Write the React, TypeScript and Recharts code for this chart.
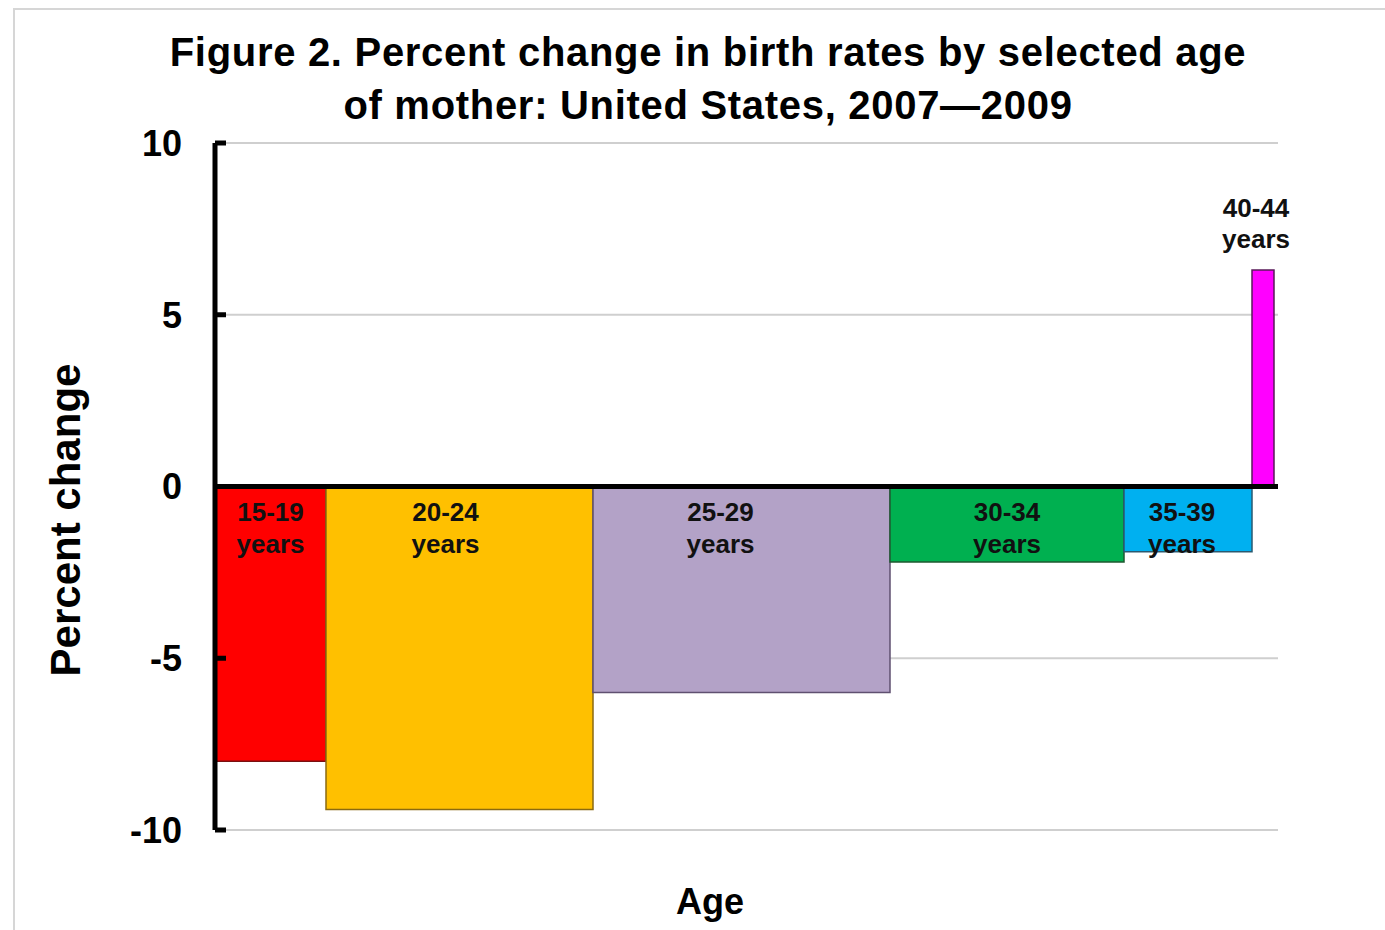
import {
  CartesianGrid,
  ComposedChart,
  Line,
  ReferenceArea,
  ReferenceLine,
  XAxis,
  YAxis,
} from 'recharts';

const ageGroups = ['15-19', '20-24', '25-29', '30-34', '35-39', '40-44'];
const percentChange = [-8.0, -9.4, -6.0, -2.2, -1.9, 6.3];
// bar widths (relative share of births)
const barWidths = [111, 267, 297, 234, 128, 22];
const barColors = ['#ff0000', '#ffc000', '#b3a2c7', '#00b050', '#00b0f0', '#ff00ff'];
const barEdges = ['#7a1010', '#8a6a10', '#5f5070', '#1f5a30', '#2a5a70', '#5a1a5a'];
const yTicks = [-10, -5, 0, 5, 10];
// label nudges (px) so the labels sit where the original put them
const labelDx = [0, -14, -21, 0, -6, -7];

const FONT = '"Liberation Sans", Arial, sans-serif';

const bars = ageGroups.map((age, i) => {
  const start = barWidths.slice(0, i).reduce((a, b) => a + b, 0);
  return { age, value: percentChange[i], start, end: start + barWidths[i] };
});
const totalWidth = bars[bars.length - 1].end;

function BarLabel(props: any) {
  const { viewBox, age, positive, dx } = props;
  if (!viewBox) return null;
  const cx = viewBox.x + viewBox.width / 2 + dx;
  const y1 = positive ? viewBox.y - 53 : viewBox.y + 34;
  const y2 = positive ? viewBox.y - 22 : viewBox.y + 66;
  return (
    <g>
      <text x={cx} y={y1} textAnchor="middle" fontFamily={FONT} fontWeight="bold" fontSize={26} fill="#111">
        {age}
      </text>
      <text x={cx} y={y2} textAnchor="middle" fontFamily={FONT} fontWeight="bold" fontSize={26} fill="#111">
        years
      </text>
    </g>
  );
}

function YTick(props: any) {
  const { x, y, payload } = props;
  return (
    <g>
      <text x={x} y={y} dy="0.36em" textAnchor="end" fontFamily={FONT} fontWeight="bold" fontSize={36} fill="#000">
        {payload.value}
      </text>
      <line x1={x + 33} x2={x + 44} y1={y} y2={y} stroke="#000" strokeWidth={5} />
    </g>
  );
}

export default function App() {
  return (
    <div style={{ position: 'absolute', left: 0, top: 0, width: 1385, height: 930, background: '#fff', overflow: 'hidden' }}>
      <div
        style={{
          position: 'absolute',
          left: 13,
          top: 8,
          width: 1400,
          height: 1000,
          border: '2px solid #d6d6d6',
        }}
      />
      <div style={{ position: 'absolute', left: 0, top: 0 }}>
        <ComposedChart data={bars} width={1385} height={930} margin={{ top: 143, right: 107, bottom: 100, left: 115 }}>
          <CartesianGrid vertical={false} stroke="#cfcfcf" strokeWidth={2} />
          <XAxis type="number" dataKey="start" hide domain={[0, totalWidth + 4]} allowDataOverflow />
          <YAxis
            type="number"
            width={100}
            domain={[-10, 10]}
            ticks={yTicks}
            interval={0}
            tickSize={0}
            tickMargin={33}
            tick={<YTick />}
            axisLine={false}
            tickLine={false}
          />
          {/* invisible carrier series so the axes have data */}
          <Line dataKey="value" stroke="none" dot={false} activeDot={false} isAnimationActive={false} legendType="none" />
          {bars.map((b, i) => (
            <ReferenceArea
              key={b.age}
              x1={b.start}
              x2={b.end}
              y1={0}
              y2={b.value}
              fill={barColors[i]}
              fillOpacity={1}
              stroke={barEdges[i]}
              strokeWidth={1.5}
              strokeOpacity={1}
              ifOverflow="visible"
              label={<BarLabel age={b.age} positive={b.value > 0} dx={labelDx[i]} />}
            />
          ))}
          <ReferenceLine y={0} stroke="#000" strokeWidth={5} ifOverflow="visible" />
          <ReferenceLine x={0} stroke="#000" strokeWidth={5} ifOverflow="visible" />
        </ComposedChart>
      </div>
      <svg width={1385} height={930} style={{ position: 'absolute', left: 0, top: 0, pointerEvents: 'none' }}>
        <text x={708} y={66} textAnchor="middle" fontFamily={FONT} fontWeight="bold" fontSize={40} letterSpacing={0.7} fill="#000">
          Figure 2. Percent change in birth rates by selected age
        </text>
        <text x={708} y={119} textAnchor="middle" fontFamily={FONT} fontWeight="bold" fontSize={40} letterSpacing={0.7} fill="#000">
          of mother: United States, 2007—2009
        </text>
        <text
          x={80}
          y={520}
          transform="rotate(-90, 80, 520)"
          textAnchor="middle"
          fontFamily={FONT}
          fontWeight="bold"
          fontSize={42}
          fill="#000"
        >
          Percent change
        </text>
        <text x={710} y={914} textAnchor="middle" fontFamily={FONT} fontWeight="bold" fontSize={36} fill="#000">
          Age
        </text>
      </svg>
    </div>
  );
}
